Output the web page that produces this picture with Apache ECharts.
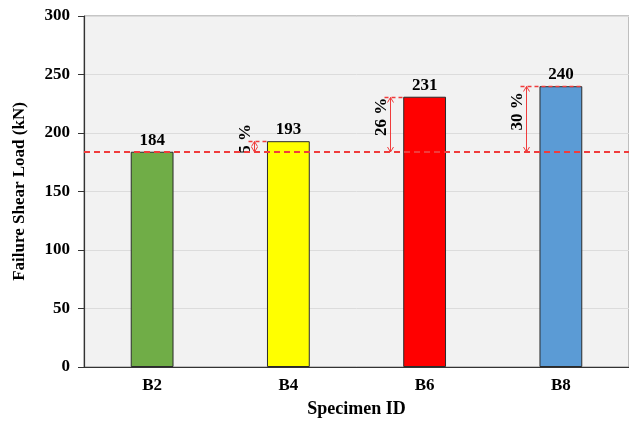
<!DOCTYPE html>
<html>
<head>
<meta charset="utf-8">
<script src="https://cdn.jsdelivr.net/npm/echarts@6/dist/echarts.min.js"></script>
<style>html,body{margin:0;padding:0;background:#fff;}#c{width:629px;height:423px;}</style>
</head>
<body>
<div id="c"></div>
<script>
const categories = ['B2', 'B4', 'B6', 'B8'];
const loads = [184, 193, 231, 240];
const barColors = ['#70ad47', '#ffff00', '#ff0000', '#5b9bd5'];
const baseline = 184;
const increaseLabels = ['', '5 %', '26 %', '30 %'];
const yMin = 0, yMax = 300, yInterval = 50;

const FONT = '"Liberation Serif", "Times New Roman", serif';
const RED = '#f03c3c';
const BAR_FRAC = 0.314;

const annData = [];
for (let i = 0; i < categories.length; i++) {
  if (increaseLabels[i]) annData.push([i, loads[i], increaseLabels[i]]);
}

const chart = echarts.init(document.getElementById('c'));
chart.setOption({
  animation: false,
  backgroundColor: '#ffffff',
  grid: {
    left: 84, right: 0, top: 16, bottom: 54,
    show: true, backgroundColor: '#f2f2f2', borderColor: '#8c8c8c', borderWidth: 1
  },
  xAxis: {
    type: 'category',
    data: categories,
    name: 'Specimen ID',
    nameLocation: 'middle',
    nameGap: 33,
    nameTextStyle: { fontFamily: FONT, fontWeight: 'bold', fontSize: 18, color: '#000' },
    axisLine: { lineStyle: { color: '#333', width: 1.2 } },
    axisTick: { show: false },
    axisLabel: { fontFamily: FONT, fontWeight: 'bold', fontSize: 17, color: '#000', margin: 10 }
  },
  yAxis: {
    type: 'value',
    min: yMin, max: yMax, interval: yInterval,
    name: 'Failure Shear Load (kN)',
    nameLocation: 'middle',
    nameGap: 56,
    nameTextStyle: { fontFamily: FONT, fontWeight: 'bold', fontSize: 17, color: '#000' },
    axisLine: { show: true, lineStyle: { color: '#333', width: 1.2 } },
    axisTick: { show: true, length: 6, lineStyle: { color: '#333' } },
    axisLabel: { fontFamily: FONT, fontWeight: 'bold', fontSize: 17, color: '#000', margin: 14 },
    splitLine: { lineStyle: { color: '#dcdcdc', width: 1 } }
  },
  series: [
    {
      type: 'bar',
      barWidth: (BAR_FRAC * 100) + '%',
      data: loads.map((v, i) => ({ value: v, itemStyle: { color: barColors[i] } })),
      itemStyle: { borderColor: '#2b2b2b', borderWidth: 1 },
      label: {
        show: true, position: 'top', distance: 3,
        fontFamily: FONT, fontWeight: 'bold', fontSize: 17, color: '#000'
      },
      z: 2
    },
    {
      type: 'custom',
      data: annData,
      z: 5,
      renderItem: function (params, api) {
        const i = api.value(0);
        const top = api.value(1);
        const idx = params.dataIndex;
        const label = annData[idx][2];
        const pTop = api.coord([i, top]);
        const pBase = api.coord([i, baseline]);
        const band = api.size([1, 0])[0];
        const barW = band * BAR_FRAC;
        const barLeft = pTop[0] - barW / 2;
        const ax = Math.round(barLeft - 13) + 0.5;
        const yT = Math.round(pTop[1]) + 0.5, yB = Math.round(pBase[1]);
        const isLast = i === categories.length - 1;
        const lineEnd = isLast ? barLeft + barW : barLeft;
        const h = Math.min(5, (yB - yT) / 2);
        const ls = { stroke: RED, lineWidth: 1, fill: null };
        const cs = params.coordSys;
        const children = [
          { type: 'line', shape: { x1: ax, y1: yT, x2: ax, y2: yB }, style: ls },
          { type: 'polyline', shape: { points: [[ax - 3, yT + h], [ax, yT], [ax + 3, yT + h]] }, style: ls },
          { type: 'polyline', shape: { points: [[ax - 3, yB - h], [ax, yB], [ax + 3, yB - h]] }, style: ls },
          { type: 'line', shape: { x1: ax - 6, y1: yT, x2: lineEnd, y2: yT }, style: { stroke: RED, lineWidth: 1.5, lineDash: [4, 3] } },
          {
            type: 'text',
            x: ax - 9,
            y: (yT + yB) / 2 - 8,
            rotation: Math.PI / 2,
            style: {
              text: label, align: 'center', verticalAlign: 'middle',
              font: 'bold 17px ' + FONT, fill: '#000'
            }
          }
        ];
        if (idx === 0) {
          children.push({
            type: 'line',
            shape: { x1: cs.x, y1: yB, x2: cs.x + cs.width, y2: yB },
            style: { stroke: RED, lineWidth: 2, lineDash: [6, 4] }
          });
        }
        return { type: 'group', children: children };
      }
    }
  ]
});
</script>
</body>
</html>
